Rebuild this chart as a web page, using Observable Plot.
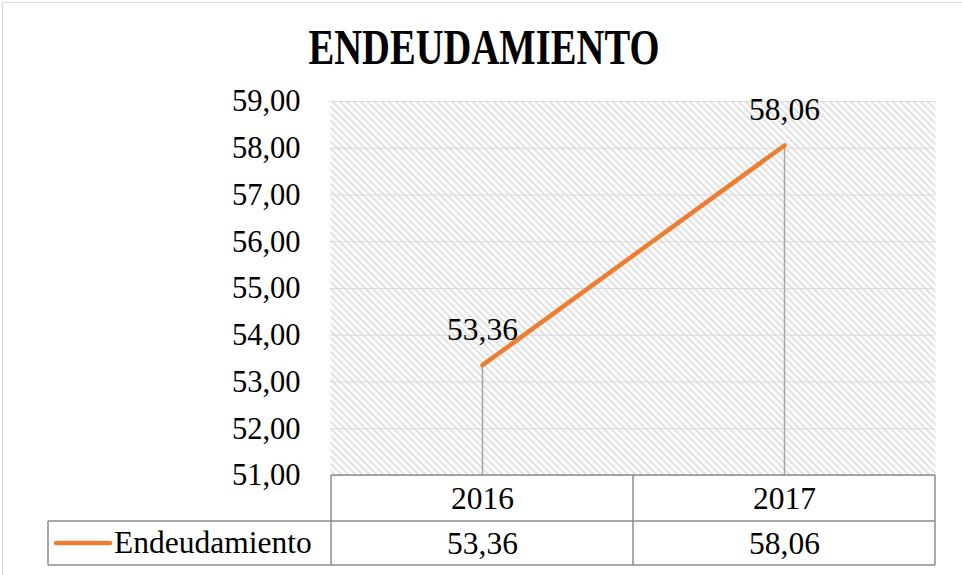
<!DOCTYPE html>
<html><head><meta charset="utf-8">
<script src="https://cdn.jsdelivr.net/npm/d3@7"></script>
<script src="https://cdn.jsdelivr.net/npm/@observablehq/plot@0.6"></script>
<style>
body{margin:0;background:#fff;}
#wrap{position:relative;width:962px;height:575px;overflow:hidden;background:#fff;}
#wrap::before{content:"";position:absolute;left:2px;top:2px;width:1000px;height:1000px;border-left:1.5px solid #d9d9d9;border-top:1.5px solid #d9d9d9;pointer-events:none;}
#wrap svg, #wrap svg text{font-family:"Liberation Serif","Times New Roman",serif !important;}
</style></head><body><div id="wrap"></div>
<script>
const years = ["2016", "2017"];
const values = [53.36, 58.06];
const seriesName = "Endeudamiento";
const titleText = "ENDEUDAMIENTO";
const yTicks = [51, 52, 53, 54, 55, 56, 57, 58, 59];

const data = years.map((year, i) => ({year, value: values[i]}));
const fmt = v => v.toFixed(2).replace(".", ",");
const FONT = "Liberation Serif";
const FS = 31.5;
const FS_TICK = 30.5;
const ORANGE = "#ED7D31";
const BORDER = "#8c8c8c";

const chart = Plot.plot({
  width: 962, height: 575,
  marginTop: 101, marginRight: 27, marginBottom: 100, marginLeft: 330,
  style: {fontFamily: FONT, fontSize: FS_TICK + "px", color: "#000", background: "transparent", overflow: "visible"},
  x: {type: "band", domain: years, padding: 0, axis: null},
  y: {domain: [51, 59], ticks: yTicks, tickFormat: fmt, tickSize: 0, tickPadding: 30, label: null},
  marks: [
    Plot.frame({fill: "url(#hatch)", stroke: null}),
    Plot.ruleY(yTicks, {stroke: "#dadada", strokeWidth: 1.2}),
    Plot.ruleX(data, {x: "year", y1: 51, y2: "value", stroke: "#a6a6a6", strokeWidth: 1.5}),
    Plot.line(data, {x: "year", y: "value", stroke: ORANGE, strokeWidth: 4.5, strokeLinecap: "round"}),
    Plot.text(data, {x: "year", y: "value", text: d => fmt(d.value), dy: -25, lineAnchor: "bottom", fontSize: FS, fill: "#000"}),
    Plot.text(years, {x: d => d, frameAnchor: "bottom", lineAnchor: "middle", dy: 23, text: d => d, fontSize: FS, fill: "#000"}),
    Plot.text(data, {x: "year", frameAnchor: "bottom", lineAnchor: "middle", dy: 68, text: d => fmt(d.value), fontSize: FS, fill: "#000"})
  ]
});

const svg = d3.select(chart);
const defs = svg.insert("defs", ":first-child");
const pat = defs.append("pattern").attr("id", "hatch").attr("patternUnits", "userSpaceOnUse")
  .attr("width", 7).attr("height", 7);
pat.append("rect").attr("width", 7).attr("height", 7).attr("fill", "#fff");
pat.append("path").attr("d", "M-2,-2L9,9M-2,5L2,9M5,-2L9,2")
  .attr("stroke", "#dcdcdc").attr("stroke-width", 1.9).attr("fill", "none");

// table built from the x / y scales
const xs = chart.scale("x");
const ys = chart.scale("y");
const bw = xs.bandwidth;
const x0 = xs.apply(years[0]);
const x1 = xs.apply(years[years.length - 1]) + bw;
const yb = ys.apply(ys.domain[0]);
const r1 = yb + 46, r2 = yb + 90;
const legendLeft = 48;
const g = svg.append("g").attr("stroke", BORDER).attr("stroke-width", 1.5).attr("fill", "none");
g.append("line").attr("x1", x0).attr("x2", x1).attr("y1", yb).attr("y2", yb);
g.append("line").attr("x1", legendLeft).attr("x2", x1).attr("y1", r1).attr("y2", r1);
g.append("line").attr("x1", legendLeft).attr("x2", x1).attr("y1", r2).attr("y2", r2);
g.append("line").attr("x1", legendLeft).attr("x2", legendLeft).attr("y1", r1).attr("y2", r2);
years.forEach(y => {
  const xx = xs.apply(y);
  g.append("line").attr("x1", xx).attr("x2", xx).attr("y1", yb).attr("y2", r2);
});
g.append("line").attr("x1", x1).attr("x2", x1).attr("y1", yb).attr("y2", r2);

// legend key in the table
const ly = (r1 + r2) / 2;
svg.append("line").attr("x1", 56).attr("x2", 110).attr("y1", ly).attr("y2", ly)
  .attr("stroke", ORANGE).attr("stroke-width", 4.5).attr("stroke-linecap", "round");
svg.append("text").attr("x", 114).attr("y", ly).attr("dy", "0.32em").attr("text-anchor", "start")
  .attr("font-size", FS).attr("fill", "#000").text(seriesName);

// title
svg.append("text").attr("x", 484).attr("y", 64).attr("text-anchor", "middle")
  .attr("font-weight", "bold").attr("font-size", 50)
  .attr("textLength", 351).attr("lengthAdjust", "spacingAndGlyphs").attr("fill", "#000").text(titleText);

document.getElementById("wrap").appendChild(chart);
</script>
</body></html>
